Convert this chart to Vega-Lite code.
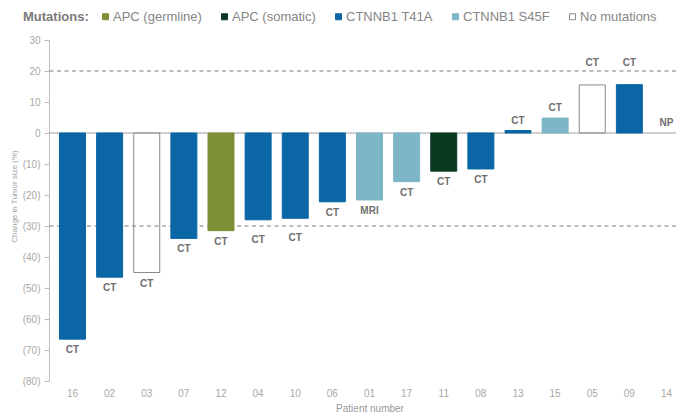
{
  "$schema": "https://vega.github.io/schema/vega-lite/v6.json",
  "width": 627,
  "height": 341,
  "autosize": {"type": "none"},
  "padding": {"left": 49, "top": 40, "right": 0, "bottom": 36},
  "background": "white",
  "config": {
    "font": "Liberation Sans",
    "view": {"stroke": null},
    "axisY": {"labelOverlap": false}
  },
  "data": {
    "values": [
      {"patient": "16", "change": -66.5, "mutation": "CTNNB1 T41A", "label": "CT"},
      {"patient": "02", "change": -46.5, "mutation": "CTNNB1 T41A", "label": "CT"},
      {"patient": "03", "change": -45, "mutation": "No mutations", "label": "CT"},
      {"patient": "07", "change": -34, "mutation": "CTNNB1 T41A", "label": "CT"},
      {"patient": "12", "change": -31.5, "mutation": "APC (germline)", "label": "CT"},
      {"patient": "04", "change": -28, "mutation": "CTNNB1 T41A", "label": "CT"},
      {"patient": "10", "change": -27.5, "mutation": "CTNNB1 T41A", "label": "CT"},
      {"patient": "06", "change": -22.2, "mutation": "CTNNB1 T41A", "label": "CT"},
      {"patient": "01", "change": -21.6, "mutation": "CTNNB1 S45F", "label": "MRI"},
      {"patient": "17", "change": -15.7, "mutation": "CTNNB1 S45F", "label": "CT"},
      {"patient": "11", "change": -12.3, "mutation": "APC (somatic)", "label": "CT"},
      {"patient": "08", "change": -11.6, "mutation": "CTNNB1 T41A", "label": "CT"},
      {"patient": "13", "change": 0.8, "mutation": "CTNNB1 T41A", "label": "CT"},
      {"patient": "15", "change": 4.8, "mutation": "CTNNB1 S45F", "label": "CT"},
      {"patient": "05", "change": 15.5, "mutation": "No mutations", "label": "CT"},
      {"patient": "09", "change": 15.6, "mutation": "CTNNB1 T41A", "label": "CT"},
      {"patient": "14", "change": 0, "mutation": null, "label": "NP"}
    ]
  },
  "encoding": {
    "x": {
      "field": "patient",
      "type": "nominal",
      "sort": null,
      "scale": {"range": [0, 641], "paddingInner": 0.3, "paddingOuter": 0.283},
      "axis": {
        "title": "Patient number",
        "domain": false,
        "ticks": false,
        "labelAngle": 0,
        "labelFontSize": 10,
        "labelColor": "#a8a8a8",
        "labelPadding": 7,
        "labelDx": -4,
        "titleFontSize": 10,
        "titleFontWeight": "normal",
        "titleColor": "#999999",
        "titlePadding": 5
      }
    },
    "y": {
      "field": "change",
      "type": "quantitative",
      "scale": {"domain": [-80, 30], "nice": false, "zero": true},
      "axis": {
        "title": "Change in Tumor size (%)",
        "values": [30, 20, 10, 0, -10, -20, -30, -40, -50, -60, -70, -80],
        "labelExpr": "datum.value < 0 ? '(' + (-datum.value) + ')' : '' + datum.value",
        "labelOverlap": false,
        "grid": false,
        "domainColor": "#bbbbbb",
        "tickColor": "#bbbbbb",
        "tickSize": 5,
        "labelFontSize": 10,
        "labelColor": "#a8a8a8",
        "labelPadding": 4,
        "titleFontSize": 8,
        "titleFontWeight": "normal",
        "titleColor": "#a0a0a0",
        "titleX": -35,
        "titleY": 156,
        "titleAlign": "center",
        "titleBaseline": "middle",
        "titleAngle": -90
      }
    }
  },
  "layer": [
    {
      "data": {"values": [{"ref": 20}, {"ref": -30}]},
      "mark": {"type": "rule", "color": "#7a7a7a", "strokeDash": [4, 3.5], "strokeWidth": 1.2},
      "encoding": {
        "x": null,
        "y": {
          "field": "ref",
          "type": "quantitative",
          "axis": {
            "title": "Change in Tumor size (%)",
            "values": [30, 20, 10, 0, -10, -20, -30, -40, -50, -60, -70, -80],
            "labelExpr": "datum.value < 0 ? '(' + (-datum.value) + ')' : '' + datum.value",
            "labelOverlap": false,
            "grid": false,
            "domainColor": "#bbbbbb",
            "tickColor": "#bbbbbb",
            "tickSize": 5,
            "labelFontSize": 10,
            "labelColor": "#a8a8a8",
            "labelPadding": 4,
            "titleFontSize": 8,
            "titleFontWeight": "normal",
            "titleColor": "#a0a0a0",
            "titleX": -35,
            "titleY": 156,
            "titleAlign": "center",
            "titleBaseline": "middle",
            "titleAngle": -90
          }
        }
      }
    },
    {
      "data": {"values": [{"ref": 0}]},
      "mark": {"type": "rule", "color": "#a0a0a0", "strokeWidth": 1.2},
      "encoding": {
        "x": null,
        "y": {
          "field": "ref",
          "type": "quantitative",
          "axis": {
            "title": "Change in Tumor size (%)",
            "values": [30, 20, 10, 0, -10, -20, -30, -40, -50, -60, -70, -80],
            "labelExpr": "datum.value < 0 ? '(' + (-datum.value) + ')' : '' + datum.value",
            "labelOverlap": false,
            "grid": false,
            "domainColor": "#bbbbbb",
            "tickColor": "#bbbbbb",
            "tickSize": 5,
            "labelFontSize": 10,
            "labelColor": "#a8a8a8",
            "labelPadding": 4,
            "titleFontSize": 8,
            "titleFontWeight": "normal",
            "titleColor": "#a0a0a0",
            "titleX": -35,
            "titleY": 156,
            "titleAlign": "center",
            "titleBaseline": "middle",
            "titleAngle": -90
          }
        }
      }
    },
    {
      "transform": [{"filter": "datum.mutation != null"}],
      "mark": {"type": "bar", "strokeWidth": 1},
      "encoding": {
        "fill": {
          "field": "mutation",
          "type": "nominal",
          "scale": {
            "domain": ["APC (germline)", "APC (somatic)", "CTNNB1 T41A", "CTNNB1 S45F", "No mutations"],
            "range": ["#7d8f35", "#0b3a22", "#0b66a5", "#7db6c6", "transparent"]
          },
          "legend": {
            "title": "Mutations:",
            "orient": "none",
            "legendX": -26,
            "legendY": -30,
            "direction": "horizontal",
            "columns": 5,
            "titleOrient": "left",
            "titleFontSize": 13,
            "titleFontWeight": "bold",
            "titleColor": "#7a7a7a",
            "titlePadding": 10,
            "labelFontSize": 13,
            "labelColor": "#858585",
            "labelOffset": 1,
            "columnPadding": 16,
            "symbolType": "square",
            "symbolSize": 36,
            "symbolStrokeWidth": 1
          }
        },
        "stroke": {
          "field": "mutation",
          "type": "nominal",
          "scale": {
            "domain": ["APC (germline)", "APC (somatic)", "CTNNB1 T41A", "CTNNB1 S45F", "No mutations"],
            "range": ["#7d8f35", "#0b3a22", "#0b66a5", "#7db6c6", "#8a8a8a"]
          },
          "legend": {
            "title": "Mutations:",
            "orient": "none",
            "legendX": -26,
            "legendY": -30,
            "direction": "horizontal",
            "columns": 5,
            "titleOrient": "left",
            "titleFontSize": 13,
            "titleFontWeight": "bold",
            "titleColor": "#7a7a7a",
            "titlePadding": 10,
            "labelFontSize": 13,
            "labelColor": "#858585",
            "labelOffset": 1,
            "columnPadding": 16,
            "symbolType": "square",
            "symbolSize": 36,
            "symbolStrokeWidth": 1
          }
        }
      }
    },
    {
      "transform": [{"filter": "datum.change < 0 && !(datum.change >= -30 && datum.change <= -25)"}],
      "mark": {"type": "text", "fontSize": 10, "fontWeight": "bold", "color": "#6e6e6e", "baseline": "middle", "dy": 11},
      "encoding": {"text": {"field": "label"}}
    },
    {
      "transform": [{"filter": "datum.change >= -30 && datum.change <= -25"}],
      "mark": {"type": "text", "fontSize": 10, "fontWeight": "bold", "color": "#6e6e6e", "baseline": "middle", "dy": 20},
      "encoding": {"text": {"field": "label"}}
    },
    {
      "transform": [{"filter": "datum.change >= 0 && datum.change < 10"}],
      "mark": {"type": "text", "fontSize": 10, "fontWeight": "bold", "color": "#6e6e6e", "baseline": "middle", "dy": -10},
      "encoding": {"text": {"field": "label"}}
    },
    {
      "transform": [{"filter": "datum.change >= 10"}],
      "mark": {"type": "text", "fontSize": 10, "fontWeight": "bold", "color": "#6e6e6e", "baseline": "middle", "dy": -22},
      "encoding": {"text": {"field": "label"}}
    }
  ]
}
